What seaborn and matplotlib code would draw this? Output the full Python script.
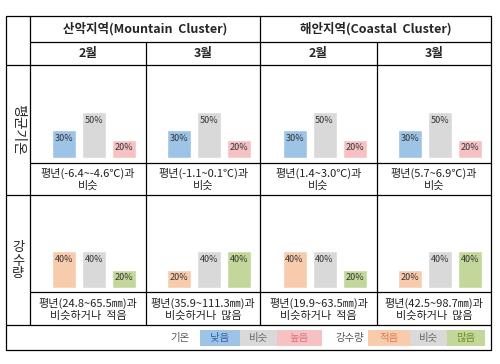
import numpy as np
import pandas as pd
import seaborn as sns
import matplotlib.pyplot as plt

sns.set_theme(style="white")
plt.rcParams['font.family'] = ['Noto Sans CJK KR', 'DejaVu Sans']

# data
clusters = ['산악지역(Mountain  Cluster)', '해안지역(Coastal  Cluster)']
months = ['2월', '3월']
row_labels = ['평균기온', '강\n수\n량']
temp_cats = ['낮음', '비슷', '높음']
prec_cats = ['적음', '비슷', '많음']
temp_probs = [[30, 50, 20], [30, 50, 20], [30, 50, 20], [30, 50, 20]]
prec_probs = [[40, 40, 20], [20, 40, 40], [40, 40, 20], [20, 40, 40]]
temp_texts = ['평년(-6.4~-4.6℃)과\n비슷', '평년(-1.1~0.1℃)과\n비슷',
              '평년(1.4~3.0℃)과\n비슷', '평년(5.7~6.9℃)과\n비슷']
prec_texts = ['평년(24.8~65.5㎜)과\n비슷하거나  적음', '평년(35.9~111.3㎜)과\n비슷하거나  많음',
              '평년(19.9~63.5㎜)과\n비슷하거나  적음', '평년(42.5~98.7㎜)과\n비슷하거나  많음']
temp_colors = ['#9DC3E6', '#D9D9D9', '#F6C1C3']
prec_colors = ['#F8CBAD', '#D9D9D9', '#C4D79B']
temp_txtcol = ['#2F5F9E', '#666666', '#E0707A']
prec_txtcol = ['#E07B50', '#666666', '#6B8E23']

W, H = 500, 364
fig = plt.figure(figsize=(5, 3.64), dpi=100)
ax0 = fig.add_axes([0, 0, 1, 1])
ax0.set_xlim(0, W)
ax0.set_ylim(H, 0)
ax0.axis('off')

# table grid
L, R = 6, 491
xcol = [30, 146, 260, 377, 491]
lw = 0.9
k = 'black'
ax0.plot([L, R, R, L, L], [16, 16, 350, 350, 16], color=k, lw=lw)
ax0.plot([30, 30], [16, 325], color=k, lw=lw)
ax0.plot([260, 260], [16, 325], color=k, lw=lw)
ax0.plot([146, 146], [42, 325], color=k, lw=lw)
ax0.plot([377, 377], [42, 325], color=k, lw=lw)
ax0.plot([30, R], [42, 42], color=k, lw=lw)
for y in [65, 195, 325]:
    ax0.plot([L, R], [y, y], color=k, lw=lw)
for y in [163, 292]:
    ax0.plot([30, R], [y, y], color=k, lw=lw)

# headers
for i, c in enumerate(clusters):
    ax0.text((xcol[2 * i] + xcol[2 * i + 2]) / 2, 29, c, ha='center', va='center',
             fontsize=9, fontweight='bold')
for j in range(4):
    ax0.text((xcol[j] + xcol[j + 1]) / 2, 53, months[j % 2], ha='center', va='center',
             fontsize=9, fontweight='bold')

ax0.text(18, 129, row_labels[0], ha='center', va='center', fontsize=10, rotation=-90)
ax0.text(18, 261, row_labels[1], ha='center', va='center', fontsize=9.5, linespacing=1.0)


def px_axes(x0, y0, w, h):
    return fig.add_axes([x0 / W, 1 - (y0 + h) / H, w / W, h / H])


for j in range(4):
    cx = (xcol[j] + xcol[j + 1]) / 2 + 6
    for vals, cats, cols, ybot, txt, ytxt in [
            (temp_probs[j], temp_cats, temp_colors, 158, temp_texts[j], 179),
            (prec_probs[j], prec_cats, prec_colors, 288, prec_texts[j], 309)]:
        ax = px_axes(cx - 45, ybot - 92, 90, 92)
        df = pd.DataFrame({'cat': cats, 'p': vals})
        sns.barplot(data=df, x='cat', y='p', hue='cat', palette=cols, legend=False,
                    width=0.8, saturation=1, ax=ax)
        ax.set_xlim(-0.5, 2.5)
        ax.set_ylim(0, 100)
        ax.axis('off')
        for i, v in enumerate(vals):
            ax.text(i, v - 9, f'{v}%', ha='center', va='center', fontsize=6.5, color='#333333')
        ax0.text(cx - 6, ytxt, txt, ha='center', va='center', fontsize=8,
                 linespacing=1.2, color='#222222')

# legend row
ax0.text(180, 338, '기온', ha='center', va='center', fontsize=7.5, color='#555555')
ax0.text(350, 338, '강수량', ha='center', va='center', fontsize=7.5, color='#555555')
legend_x = [[200, 240, 277, 322], [368, 410, 447, 485]]
for lx, cats, cols, tcols in [(legend_x[0], temp_cats, temp_colors, temp_txtcol),
                              (legend_x[1], prec_cats, prec_colors, prec_txtcol)]:
    for i in range(3):
        ax0.add_patch(plt.Rectangle((lx[i], 330), lx[i + 1] - lx[i], 16, color=cols[i], lw=0))
        ax0.text((lx[i] + lx[i + 1]) / 2, 338, cats[i], ha='center', va='center',
                 fontsize=7.5, color=tcols[i])

fig.savefig('out.png', dpi=100)
